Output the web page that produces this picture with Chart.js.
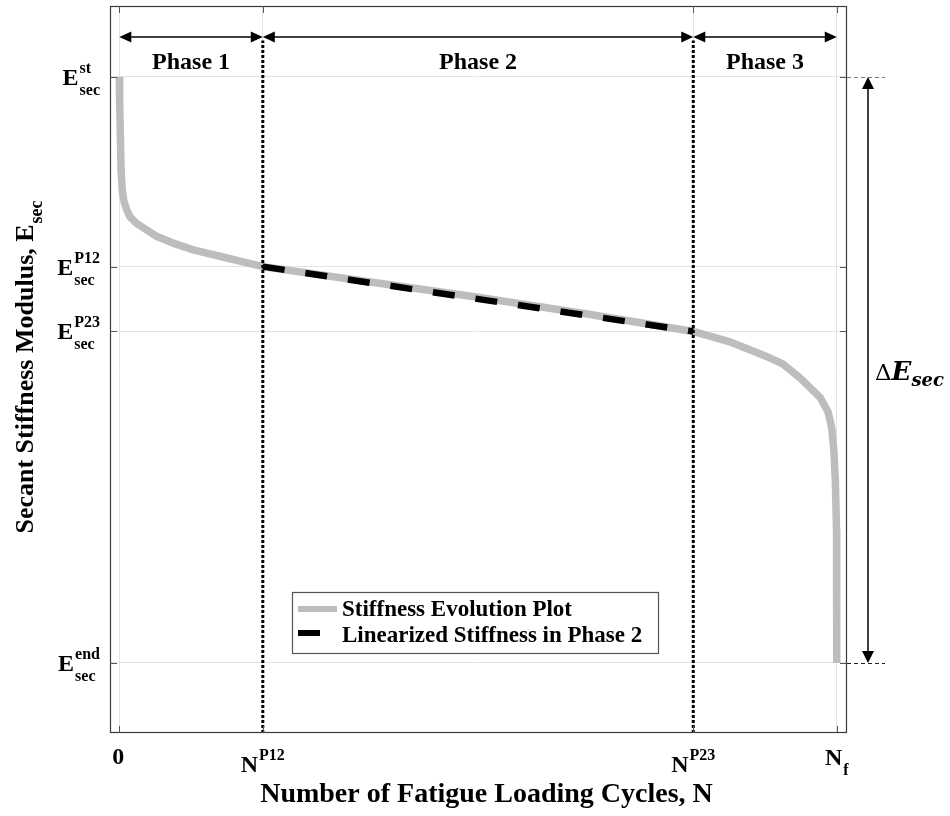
<!DOCTYPE html>
<html>
<head>
<meta charset="utf-8">
<script src="https://cdn.jsdelivr.net/npm/chart.js@4/dist/chart.umd.min.js"></script>
<style>
  html, body { margin: 0; padding: 0; background: #fff; }
  #wrap { width: 950px; height: 816px; }
</style>
</head>
<body>
<div id="wrap"><canvas id="c" width="950" height="816"></canvas></div>
<script>
// Normalised fatigue life: N = 0 .. N_f = 100; secant modulus: E_end = 0 .. E_st = 100
const stiffnessN = [0, 0.05, 0.1, 0.24, 0.4, 0.66, 1.03, 1.5, 2.4, 5.2, 7.8, 10.3, 14.0, 20,
                    35, 50, 65, 80, 85.1, 90.2, 92.5, 94.9, 97.7, 98.8, 99.3, 99.6, 99.8, 99.97, 100];
const stiffnessE = [100, 95, 92.7, 84.2, 80.7, 78.7, 77.3, 76.1, 75.0, 72.8, 71.5, 70.5, 69.4, 67.63,
                    65.0, 62.4, 59.6, 56.57, 54.8, 52.3, 51.0, 48.6, 45.3, 42.8, 40.1, 36.3, 31.2, 22.7, 0];

// Straight-line fit of the phase 2 segment
const linearN = [20, 80];
const linearE = [67.63, 56.57];

// Phase boundaries along the cycle axis
const phaseBounds = [0, 20, 80, 100];
const phaseNames = ['Phase 1', 'Phase 2', 'Phase 3'];

// Tick positions and their labels (base text with optional super/subscript)
const xTickValues = [0, 20, 80, 100];
const xTickLabels = [
  { base: '0' },
  { base: 'N', sup: 'P12' },
  { base: 'N', sup: 'P23' },
  { base: 'N', sub: 'f' }
];
const yTickValues = [0, 56.57, 67.63, 100];
const yTickLabels = [
  { base: 'E', sup: 'end', sub: 'sec' },
  { base: 'E', sup: 'P23', sub: 'sec' },
  { base: 'E', sup: 'P12', sub: 'sec' },
  { base: 'E', sup: 'st', sub: 'sec' }
];

const legendLabels = ['Stiffness Evolution Plot', 'Linearized Stiffness in Phase 2'];
const xTitle = 'Number of Fatigue Loading Cycles, N';
const yTitle = { base: 'Secant Stiffness Modulus, E', sub: 'sec' };

const X_MIN = -1.3, X_MAX = 101.43;
const Y_MIN = -11.95, Y_MAX = 112.1;
const PHASE_ARROW_E = 106.8;

const SERIF = '"Liberation Serif", "Times New Roman", serif';
const f = (size, style) => (style || 'bold') + ' ' + size + 'px ' + SERIF;

const GREY = '#bdbdbd';

function zip(xs, ys) { return xs.map((x, i) => ({ x: x, y: ys[i] })); }

function arrowHead(ctx, x, y, dx, dy, len, hw) {
  ctx.beginPath();
  ctx.moveTo(x, y);
  ctx.lineTo(x - dx * len - dy * hw, y - dy * len + dx * hw);
  ctx.lineTo(x - dx * len + dy * hw, y - dy * len - dx * hw);
  ctx.closePath();
  ctx.fill();
}

const annotations = {
  id: 'annotations',
  afterDraw(chart) {
    const ctx = chart.ctx;
    const area = chart.chartArea;
    const xs = chart.scales.x, ys = chart.scales.y;
    ctx.save();

    // plot frame
    ctx.strokeStyle = '#3a3a3a';
    ctx.lineWidth = 1.2;
    ctx.strokeRect(area.left + 0.5, area.top + 0.5, area.right - area.left - 1, area.bottom - area.top - 1);

    // inward tick marks on all four sides
    ctx.strokeStyle = '#555';
    ctx.lineWidth = 1;
    const TL = 7;
    xTickValues.forEach(v => {
      const px = Math.round(xs.getPixelForValue(v)) + 0.5;
      ctx.beginPath();
      ctx.moveTo(px, area.bottom); ctx.lineTo(px, area.bottom - TL);
      ctx.moveTo(px, area.top); ctx.lineTo(px, area.top + TL);
      ctx.stroke();
    });
    yTickValues.forEach(v => {
      const py = Math.round(ys.getPixelForValue(v)) + 0.5;
      ctx.beginPath();
      ctx.moveTo(area.left, py); ctx.lineTo(area.left + TL, py);
      ctx.moveTo(area.right, py); ctx.lineTo(area.right - TL, py);
      ctx.stroke();
    });

    ctx.fillStyle = '#000';
    ctx.textBaseline = 'alphabetic';
    ctx.textAlign = 'left';

    // y tick labels: E with superscript and subscript, right-aligned
    yTickLabels.forEach((lab, i) => {
      const py = ys.getPixelForValue(yTickValues[i]);
      ctx.font = f(24); const wb = ctx.measureText(lab.base).width;
      ctx.font = f(16);
      const wsup = ctx.measureText(lab.sup).width, wsub = ctx.measureText(lab.sub).width;
      const right = area.left - 10;
      const x0 = right - wb - 1 - Math.max(wsup, wsub);
      ctx.font = f(24); ctx.fillText(lab.base, x0, py + 8);
      ctx.font = f(16);
      ctx.fillText(lab.sup, x0 + wb + 1, py - 4);
      ctx.fillText(lab.sub, x0 + wb + 1, py + 18);
    });

    // x tick labels
    xTickLabels.forEach((lab, i) => {
      const px = xs.getPixelForValue(xTickValues[i]);
      ctx.font = f(24); const wb = ctx.measureText(lab.base).width;
      if (!lab.sup && !lab.sub) {
        ctx.textAlign = 'center';
        ctx.fillText(lab.base, px - 1, area.bottom + 31);
        ctx.textAlign = 'left';
        return;
      }
      ctx.font = f(16);
      const ws = ctx.measureText(lab.sup || lab.sub).width;
      const x0 = px - (wb + 1 + ws) / 2;
      if (lab.sup) {
        ctx.font = f(24); ctx.fillText(lab.base, x0, area.bottom + 39);
        ctx.font = f(16); ctx.fillText(lab.sup, x0 + wb + 1, area.bottom + 27);
      } else {
        ctx.font = f(24); ctx.fillText(lab.base, x0, area.bottom + 32);
        ctx.font = f(16); ctx.fillText(lab.sub, x0 + wb + 1, area.bottom + 42);
      }
    });

    // axis titles
    ctx.font = f(28);
    ctx.textAlign = 'center';
    ctx.fillText(xTitle, (area.left + area.right) / 2 + 8, area.bottom + 69);
    ctx.textAlign = 'left';

    ctx.save();
    ctx.font = f(26);
    const wMain = ctx.measureText(yTitle.base).width;
    ctx.font = f(18);
    const wSub = ctx.measureText(yTitle.sub).width;
    const yCenter = 367;
    ctx.translate(33, yCenter + (wMain + 1 + wSub) / 2);
    ctx.rotate(-Math.PI / 2);
    ctx.font = f(26); ctx.fillText(yTitle.base, 0, 0);
    ctx.font = f(18); ctx.fillText(yTitle.sub, wMain + 1, 9);
    ctx.restore();

    // phase span arrows and names
    const ay = ys.getPixelForValue(PHASE_ARROW_E);
    ctx.strokeStyle = '#000';
    ctx.lineWidth = 1.5;
    for (let i = 0; i < phaseNames.length; i++) {
      const x1 = xs.getPixelForValue(phaseBounds[i]);
      const x2 = xs.getPixelForValue(phaseBounds[i + 1]);
      ctx.beginPath(); ctx.moveTo(x1 + 4, ay); ctx.lineTo(x2 - 4, ay); ctx.stroke();
      arrowHead(ctx, x1, ay, -1, 0, 12, 5.5);
      arrowHead(ctx, x2, ay, 1, 0, 12, 5.5);
      ctx.font = f(24);
      ctx.textAlign = 'center';
      ctx.fillText(phaseNames[i], (x1 + x2) / 2, ay + 32);
      ctx.textAlign = 'left';
    }

    // total stiffness drop, to the right of the frame
    const yTop = ys.getPixelForValue(yTickValues[3]);
    const yBot = ys.getPixelForValue(yTickValues[0]);
    const dx = area.right + 21;
    ctx.setLineDash([4, 3]);
    ctx.lineWidth = 1.2;
    ctx.strokeStyle = '#777';
    ctx.beginPath(); ctx.moveTo(area.right, Math.round(yTop) + 0.5); ctx.lineTo(area.right + 38, Math.round(yTop) + 0.5); ctx.stroke();
    ctx.strokeStyle = '#222';
    ctx.beginPath(); ctx.moveTo(area.right, Math.round(yBot) + 0.5); ctx.lineTo(area.right + 38, Math.round(yBot) + 0.5); ctx.stroke();
    ctx.setLineDash([]);
    ctx.strokeStyle = '#000';
    ctx.lineWidth = 1.5;
    ctx.beginPath(); ctx.moveTo(dx, yTop + 8); ctx.lineTo(dx, yBot - 8); ctx.stroke();
    arrowHead(ctx, dx, yTop, 0, -1, 12, 6);
    arrowHead(ctx, dx, yBot, 0, 1, 12, 6);

    const ly = 380;
    let lx = area.right + 28;
    ctx.font = '23px "DejaVu Serif", serif';
    ctx.fillText('\u0394', lx, ly);
    lx += ctx.measureText('\u0394').width;
    ctx.font = 'italic bold 26px "DejaVu Serif", serif';
    ctx.fillText('E', lx, ly);
    lx += ctx.measureText('E').width;
    ctx.font = 'italic bold 18px "DejaVu Serif", serif';
    ctx.fillText('sec', lx, ly + 6);

    // legend box
    const bx = area.left + 182, by = area.bottom - 141, bw = 366, bh = 61;
    ctx.fillStyle = '#fff';
    ctx.fillRect(bx, by, bw, bh);
    ctx.strokeStyle = '#555';
    ctx.lineWidth = 1.2;
    ctx.strokeRect(bx + 0.5, by + 0.5, bw, bh);
    ctx.lineWidth = 6;
    ctx.strokeStyle = GREY;
    ctx.beginPath(); ctx.moveTo(bx + 6, by + 17); ctx.lineTo(bx + 45, by + 17); ctx.stroke();
    ctx.strokeStyle = '#000';
    ctx.beginPath(); ctx.moveTo(bx + 6, by + 41); ctx.lineTo(bx + 28, by + 41); ctx.stroke();
    ctx.fillStyle = '#000';
    ctx.font = f(23);
    ctx.fillText(legendLabels[0], bx + 50, by + 24);
    ctx.fillText(legendLabels[1], bx + 50, by + 50);

    ctx.restore();
  }
};

const grid = { color: '#e4e4e4', lineWidth: 1, drawTicks: false };

new Chart(document.getElementById('c'), {
  type: 'line',
  data: {
    datasets: [
      {
        label: 'N_P12 boundary',
        data: [{ x: phaseBounds[1], y: Y_MIN }, { x: phaseBounds[1], y: PHASE_ARROW_E - 0.6 }],
        borderColor: '#000', borderWidth: 3, borderDash: [3, 2], pointRadius: 0, order: 0
      },
      {
        label: 'N_P23 boundary',
        data: [{ x: phaseBounds[2], y: Y_MIN }, { x: phaseBounds[2], y: PHASE_ARROW_E - 0.6 }],
        borderColor: '#000', borderWidth: 3, borderDash: [3, 2], pointRadius: 0, order: 0
      },
      {
        label: legendLabels[1],
        data: zip(linearN, linearE),
        borderColor: '#000', borderWidth: 6.5, borderDash: [22, 21], borderCapStyle: 'butt',
        pointRadius: 0, tension: 0, order: 1
      },
      {
        label: legendLabels[0],
        data: zip(stiffnessN, stiffnessE),
        borderColor: GREY, borderWidth: 7.5, borderJoinStyle: 'miter', borderCapStyle: 'butt',
        pointRadius: 0, tension: 0, order: 2
      }
    ]
  },
  options: {
    responsive: false,
    animation: false,
    devicePixelRatio: 1,
    layout: { padding: { left: 110, right: 103, top: 6, bottom: 83 } },
    plugins: { legend: { display: false }, tooltip: { enabled: false } },
    scales: {
      x: {
        type: 'linear', min: X_MIN, max: X_MAX,
        grid: grid, border: { display: false },
        ticks: { display: false },
        afterBuildTicks: s => { s.ticks = xTickValues.map(v => ({ value: v })); }
      },
      y: {
        type: 'linear', min: Y_MIN, max: Y_MAX,
        grid: grid, border: { display: false },
        ticks: { display: false },
        afterBuildTicks: s => { s.ticks = yTickValues.map(v => ({ value: v })); }
      }
    }
  },
  plugins: [annotations]
});
</script>
</body>
</html>
